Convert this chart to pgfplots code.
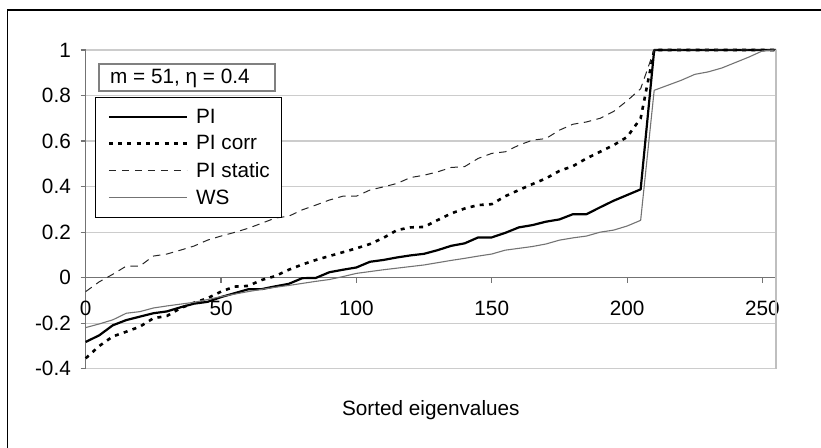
\documentclass[border=0pt]{standalone}
\usepackage{fontspec}
\setmainfont{Liberation Sans}
\usepackage{pgfplots}
\usepackage{pgfplotstable}
\pgfplotsset{compat=1.18}

\pgfplotstableread{
x pi picorr pistatic ws
0 -0.282 -0.354 -0.061 -0.219
5 -0.253 -0.300 -0.018 -0.203
10 -0.209 -0.258 0.015 -0.185
15 -0.186 -0.237 0.051 -0.156
20 -0.171 -0.215 0.051 -0.149
25 -0.156 -0.178 0.095 -0.133
30 -0.148 -0.168 0.104 -0.124
35 -0.130 -0.134 0.121 -0.116
40 -0.114 -0.110 0.139 -0.108
45 -0.106 -0.090 0.165 -0.096
50 -0.085 -0.061 0.183 -0.083
55 -0.068 -0.039 0.199 -0.072
60 -0.051 -0.036 0.217 -0.061
65 -0.050 -0.010 0.239 -0.051
70 -0.038 0.007 0.262 -0.042
75 -0.027 0.035 0.270 -0.034
80 -0.002 0.058 0.298 -0.025
85 -0.001 0.078 0.319 -0.016
90 0.024 0.095 0.341 -0.008
95 0.035 0.112 0.358 0.005
100 0.045 0.129 0.358 0.019
105 0.070 0.148 0.385 0.027
110 0.078 0.175 0.399 0.035
115 0.089 0.209 0.414 0.042
120 0.098 0.221 0.440 0.049
125 0.105 0.223 0.450 0.056
130 0.121 0.253 0.465 0.066
135 0.140 0.282 0.484 0.076
140 0.151 0.304 0.488 0.085
145 0.177 0.319 0.524 0.095
150 0.177 0.323 0.546 0.104
155 0.197 0.358 0.553 0.121
160 0.221 0.385 0.582 0.129
165 0.231 0.411 0.604 0.137
170 0.246 0.436 0.611 0.148
175 0.256 0.469 0.648 0.165
180 0.279 0.490 0.674 0.175
185 0.279 0.524 0.684 0.183
190 0.309 0.553 0.700 0.200
195 0.338 0.582 0.730 0.209
200 0.363 0.618 0.777 0.227
205 0.388 0.700 0.830 0.252
210 1 1 1 0.823
215 1 1 1 0.845
220 1 1 1 0.867
225 1 1 1 0.893
230 1 1 1 0.904
235 1 1 1 0.921
240 1 1 1 0.945
245 1 1 1 0.969
250 1 1 1 0.996
255 1 1 1 1
}\data

\newcommand{\chartfont}{\fontsize{20.8}{24}\selectfont}

\begin{document}
\begin{tikzpicture}
\begin{axis}[
  at={(0,0)}, anchor=south west, scale only axis,
  width=690.3bp, height=318.8bp,
  xmin=0, xmax=255, ymin=-0.4, ymax=1,
  axis x line*=middle, axis y line*=left,
  hide obscured x ticks=false, hide obscured y ticks=false,
  clip=false,
  xtick={0,50,100,150,200,250},
  ytick={-0.4,-0.2,0,0.2,0.4,0.6,0.8,1},
  tick align=outside,
  major tick length=5bp,
  tick style={black!55, line width=1.2bp},
  axis line style={black!55, line width=1.3bp},
  ymajorgrids,
  major grid style={black!20, line width=1.3bp},
  /pgf/number format/assume math mode=true,
  yticklabel style={/pgf/number format/fixed, /pgf/number format/precision=1,
     font=\chartfont, inner sep=0bp, anchor=east, xshift=-9.7bp},
  xticklabel style={font=\chartfont, inner sep=0bp, anchor=north, yshift=-18bp},
  xlabel={Sorted eigenvalues},
  xlabel style={font=\chartfont, at={(axis description cs:0.5,0)}, anchor=base, yshift=-47bp, inner sep=0bp},
  legend style={at={(axis description cs:0.01347,0.8527)}, anchor=north west,
     draw=black, line width=1bp, fill=white, font=\chartfont,
     inner xsep=12bp, inner ysep=6bp, row sep=0bp, column sep=8bp,
     nodes={inner xsep=0bp, inner ysep=5.5bp}},
  legend cell align=left,
  legend image code/.code={\draw[#1] (0bp,0bp) -- (78bp,0bp);},
]
\addplot[black, line width=2.2bp, line join=round] table[x=x, y=pi] {\data};
\addlegendentry{PI}
\addplot[black, line width=2.6bp, dash pattern=on 4bp off 5.3bp] table[x=x, y=picorr] {\data};
\addlegendentry{PI corr}
\addplot[black!85, line width=1bp, dash pattern=on 7.5bp off 5.5bp] table[x=x, y=pistatic] {\data};
\addlegendentry{PI static}
\addplot[black!55, line width=1.1bp, line join=round] table[x=x, y=ws] {\data};
\addlegendentry{WS}
\draw[black!25, line width=1.3bp] (rel axis cs:1,0) -- (rel axis cs:1,1);
\end{axis}
% title box
\draw[black!50, line width=2bp, fill=white] (13.3bp,277.8bp) rectangle (189.3bp,304.8bp);
\node[anchor=base west, inner sep=0bp, font=\chartfont] at (24.3bp,285.5bp) {m = 51, η = 0.4};
% outer frame
\draw[black, line width=1.5bp] (-78.4bp,-90bp) -- (-78.4bp,358.8bp) -- (745bp,358.8bp);
\pgfresetboundingbox
\path[use as bounding box] (-85.7bp,-79.2bp) rectangle (735.3bp,368.8bp);
\end{tikzpicture}
\end{document}
